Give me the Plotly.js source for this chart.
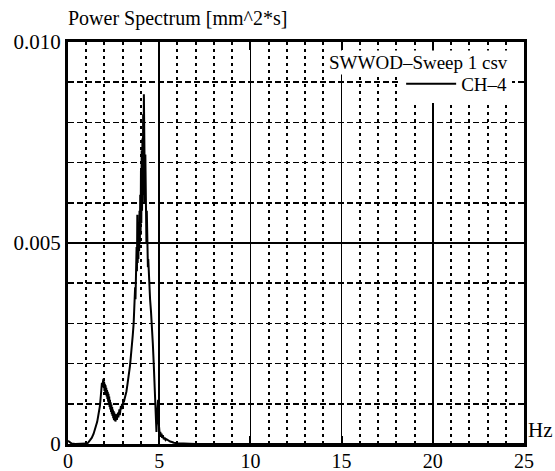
<!DOCTYPE html>
<html>
<head>
<meta charset="utf-8">
<script src="https://cdn.plot.ly/plotly-3.0.1.min.js"></script>
<style>html,body{margin:0;padding:0;background:#fff;}#chart{width:555px;height:471px;}</style>
</head>
<body>
<div id="chart"></div>
<script>
// Frequency [Hz]
const freqHz = [0, 0.2, 0.4, 0.6, 0.8, 1.0, 1.1, 1.2, 1.3, 1.4, 1.5, 1.6, 1.65, 1.7, 1.75, 1.8, 1.83, 1.86, 1.88, 1.9,
  1.92, 1.94, 1.96, 1.98, 2.0, 2.02, 2.04, 2.06, 2.08, 2.1, 2.12, 2.14, 2.16, 2.18, 2.2, 2.22, 2.24, 2.26, 2.28, 2.3,
  2.32, 2.34, 2.36, 2.38, 2.4, 2.42, 2.44, 2.46, 2.48, 2.5, 2.52, 2.54, 2.56, 2.58, 2.6, 2.62, 2.64, 2.66, 2.68, 2.7,
  2.72, 2.74, 2.76, 2.78, 2.8, 2.82, 2.84, 2.86, 2.88, 2.9, 2.93, 2.96, 3.0, 3.03, 3.06, 3.1, 3.15, 3.2, 3.25, 3.3,
  3.35, 3.4, 3.45, 3.5, 3.55, 3.6, 3.65, 3.68, 3.7, 3.72, 3.74, 3.76, 3.78, 3.8, 3.82, 3.84, 3.86, 3.88, 3.9, 3.92,
  3.94, 3.96, 3.98, 4.0, 4.02, 4.04, 4.06, 4.08, 4.1, 4.12, 4.14, 4.16, 4.18, 4.2, 4.22, 4.24, 4.26, 4.28, 4.3, 4.32,
  4.34, 4.36, 4.38, 4.4, 4.44, 4.5, 4.55, 4.6, 4.65, 4.7, 4.75, 4.78, 4.82, 4.85, 4.88, 4.9, 4.92, 4.94, 4.96, 4.98,
  5.0, 5.03, 5.06, 5.1, 5.13, 5.16, 5.2, 5.25, 5.3, 5.35, 5.4, 5.5, 5.6, 5.7, 5.8, 6.0, 6.3, 6.6, 7.0, 10.0,
  25.0];
// Power spectrum CH-4 [mm^2*s]
const ch4Power = [0.00008, 0.00001, 0, 0, 0, 0.00001, 0.00003, 0.00008, 0.00015, 0.00025, 0.00038, 0.00055, 0.00068, 0.0008, 0.00095, 0.0012, 0.0014, 0.00152, 0.00142, 0.00158,
  0.00146, 0.00162, 0.00140, 0.00155, 0.00132, 0.00150, 0.00128, 0.00146, 0.00122, 0.00140, 0.00118, 0.00134, 0.00112, 0.00130, 0.00105, 0.00125, 0.00098, 0.00118, 0.00092, 0.00110,
  0.00086, 0.00104, 0.00080, 0.00098, 0.00074, 0.00092, 0.00070, 0.00086, 0.00064, 0.00082, 0.00060, 0.00078, 0.00058, 0.00074, 0.00056, 0.00072, 0.00057, 0.00074, 0.00060, 0.00076,
  0.00062, 0.00078, 0.00066, 0.00082, 0.00068, 0.00086, 0.00072, 0.00090, 0.00078, 0.00094, 0.00086, 0.00100, 0.00095, 0.00108, 0.00104, 0.00112, 0.0012, 0.0013, 0.00145, 0.0016,
  0.0018, 0.00195, 0.0022, 0.0024, 0.0027, 0.0030, 0.0034, 0.0039, 0.0036, 0.0044, 0.0040, 0.0049, 0.0043, 0.0057, 0.0045, 0.0052, 0.0046, 0.0055, 0.0048, 0.0058,
  0.0050, 0.0062, 0.0052, 0.0068, 0.0055, 0.0073, 0.0058, 0.0076, 0.0060, 0.0082, 0.0062, 0.0087, 0.0064, 0.0078, 0.0060, 0.0072, 0.0054, 0.0066, 0.0050, 0.0058,
  0.0047, 0.0052, 0.0044, 0.0046, 0.0040, 0.0036, 0.0033, 0.0030, 0.0025, 0.0020, 0.0015, 0.0010, 0.0005, 0.0003, 0.0007, 0.00105, 0.0008, 0.0011, 0.0006, 0.00035,
  0.0003, 0.00022, 0.0003, 0.00018, 0.00026, 0.00015, 0.00022, 0.00012, 0.00016, 0.0001, 0.00012, 0.00008, 0.00006, 0.00005, 0.00003, 0.00002, 0.00001, 0, 0, 0,
  0];
const xTicks = [0, 5, 10, 15, 20, 25];
const xMinorTicks = [1, 2, 3, 4, 6, 7, 8, 9, 11, 12, 13, 14, 16, 17, 18, 19, 21, 22, 23, 24];
const yTicks = [0, 0.005, 0.010];
const yTickLabels = ['0', '0.005', '0.010'];
const yMinorTicks = [0.001, 0.002, 0.003, 0.004, 0.006, 0.007, 0.008, 0.009];

const FONT = 'Liberation Serif, Times New Roman, serif';

const trace = {
  x: freqHz, y: ch4Power, type: 'scatter', mode: 'lines', name: 'CH–4',
  line: {color: '#000', width: 2}
};

const layout = {
  width: 555, height: 471,
  margin: {l: 68, r: 31, t: 42, b: 27},
  paper_bgcolor: '#fff', plot_bgcolor: '#fff',
  font: {family: FONT, size: 20, color: '#000'},
  title: {text: 'Power Spectrum [mm^2*s]', x: 0, xanchor: 'left', xref: 'paper',
    y: 1 - 18/471, yanchor: 'middle', font: {family: FONT, size: 20, color: '#000'}},
  showlegend: true,
  legend: {x: 0.974, xanchor: 'right', y: 0.896, yanchor: 'middle', bgcolor: '#fff',
    borderwidth: 0, itemwidth: 50, font: {family: FONT, size: 19, color: '#000'}},
  xaxis: {
    range: [0, 25], tickvals: xTicks, ticktext: xTicks.map(String),
    showline: true, linecolor: '#000', linewidth: 3, mirror: 'ticks',
    ticks: 'inside', ticklen: 8, tickwidth: 2, tickcolor: '#000',
    showgrid: true, gridcolor: '#000', gridwidth: 1.5,
    minor: {tickvals: xMinorTicks, showgrid: true, gridcolor: '#000', gridwidth: 2, griddash: '3px,4px', ticks: ''},
    zeroline: false, ticklabelstandoff: -3,
    tickfont: {family: FONT, size: 20, color: '#000'}, fixedrange: true
  },
  yaxis: {
    range: [0, 0.010], tickvals: yTicks, ticktext: yTickLabels,
    showline: true, linecolor: '#000', linewidth: 3, mirror: 'ticks',
    ticks: 'inside', ticklen: 8, tickwidth: 2, tickcolor: '#000',
    showgrid: true, gridcolor: '#000', gridwidth: 1.5,
    minor: {tickvals: yMinorTicks, showgrid: true, gridcolor: '#000', gridwidth: 1.5, griddash: '6px,3px', ticks: ''},
    zeroline: false, tickfont: {family: FONT, size: 21, color: '#000'}, fixedrange: true
  },
  annotations: [
    {text: 'SWWOD–Sweep 1 csv', xref: 'paper', yref: 'paper', x: 0.969, y: 0.948,
      xanchor: 'right', yanchor: 'middle', showarrow: false, bgcolor: '#fff',
      font: {family: FONT, size: 19, color: '#000'}},
    {text: 'Hz', xref: 'paper', yref: 'paper', x: 1.005, y: 0.035,
      xanchor: 'left', yanchor: 'middle', showarrow: false,
      font: {family: FONT, size: 21, color: '#000'}}
  ]
};

Plotly.newPlot('chart', [trace], layout, {displayModeBar: false, staticPlot: true});
</script>
</body>
</html>
